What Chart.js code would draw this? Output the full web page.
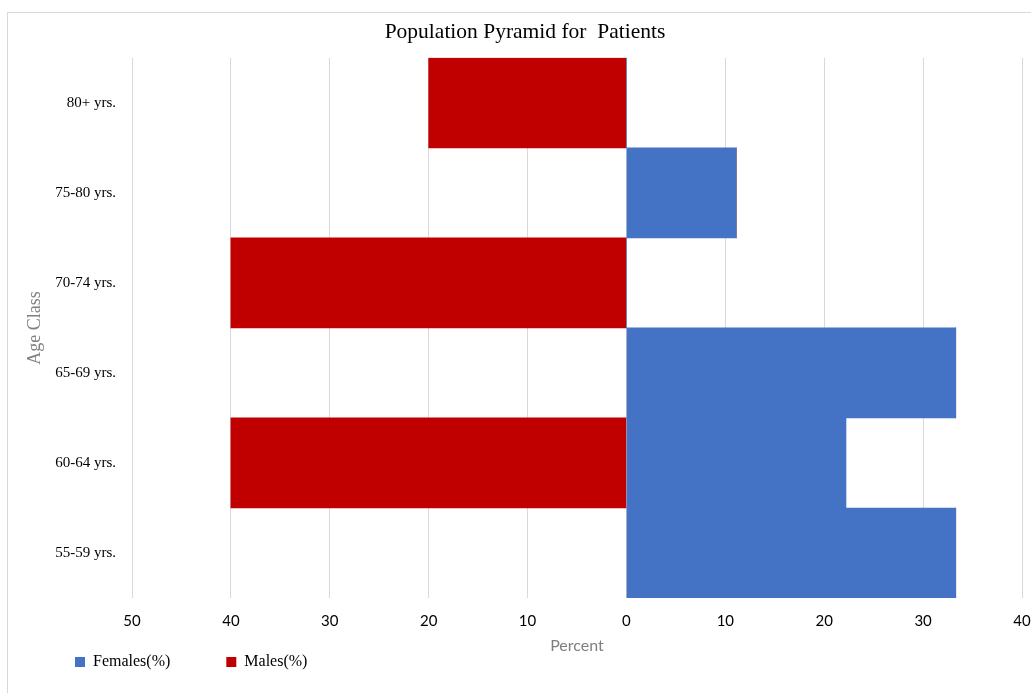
<!DOCTYPE html>
<html>
<head>
<meta charset="utf-8">
<script src="https://cdn.jsdelivr.net/npm/chart.js@4"></script>
<style>
  html, body { margin: 0; padding: 0; background: #fff; overflow: hidden; }
  #wrap { position: relative; width: 1031px; height: 693px; overflow: hidden; }
  #frame { position: absolute; left: 7px; top: 12px; width: 1100px; height: 800px; border: 1px solid #d9d9d9; }
</style>
</head>
<body>
<div id="wrap">
  <div id="frame"></div>
  <canvas id="Piramide"></canvas>
</div>
<script>
const labelsIdade = [
    '80+ yrs.',
    '75-80 yrs.',
    '70-74 yrs.',
    '65-69 yrs.',
    '60-64 yrs.',
    '55-59 yrs.',
];

// percent of patients per age class
const femininos = [0, 11.1, 0, 33.3, 22.2, 33.3];
const masculinos = [20, 0, 40, 0, 40, 0];

const ticksPercent = [50, 40, 30, 20, 10, 0, 10, 20, 30, 40];

const dataPiramide = {
    labels: labelsIdade,
    datasets: [
        {
            label: 'Females(%)',
            backgroundColor: 'rgb(68, 114, 196)',
            borderColor: 'rgb(68, 114, 196)',
            data: femininos,
        },
        {
            label: 'Males(%)',
            backgroundColor: 'rgb(192, 0, 0)',
            borderColor: 'rgb(192, 0, 0)',
            data: masculinos.map(v => -v),
        }
    ]
};

// legend items sit lower than its padded box, pull it back up
const puxaLegenda = {
    id: 'puxaLegenda',
    beforeDraw(chart) {
        const leg = chart.legend;
        if (leg && !leg._puxada) {
            leg.top -= leg.options.labels.padding - 4;
            leg._puxada = true;
        }
    },
    afterUpdate(chart) {
        if (chart.legend) chart.legend._puxada = false;
    }
};

const configPiramide = {
    type: 'bar',
    data: dataPiramide,
    plugins: [puxaLegenda],
    options: {
        indexAxis: 'y',
        responsive: true,
        maintainAspectRatio: false,
        animation: false,
        layout: { padding: { left: 19, top: 12, right: 0, bottom: 17 } },
        datasets: {
            bar: { barPercentage: 1, categoryPercentage: 1, borderWidth: 0 }
        },
        scales: {
            x: {
                stacked: true,
                min: -50,
                max: 40,
                ticks: {
                    stepSize: 10,
                    color: '#000',
                    font: { family: 'Lato', size: 15 },
                    padding: 14,
                    callback: (v, i) => ticksPercent[i],
                },
                grid: { color: '#d9d9d9', drawTicks: false },
                border: { display: false },
                title: {
                    display: true,
                    text: 'Percent',
                    color: '#7f7f7f',
                    font: { family: 'Lato', size: 16 },
                    padding: { top: 4, bottom: -5 },
                },
                afterFit: s => {
                    s.height = 52;
                    s.paddingLeft = 0;
                    s.paddingRight = 9;
                },
            },
            y: {
                stacked: true,
                ticks: {
                    color: '#000',
                    font: { family: 'Liberation Serif', size: 15 },
                    padding: 8,
                },
                grid: { display: false },
                border: { display: false },
                title: {
                    display: true,
                    text: 'Age Class',
                    color: '#808080',
                    font: { family: 'Liberation Serif', size: 18 },
                    padding: { top: 5, bottom: 0 },
                },
                afterFit: s => { s.width = 113; },
            }
        },
        plugins: {
            title: {
                display: true,
                text: 'Population Pyramid for  Patients',
                color: '#000',
                font: { family: 'Liberation Serif', size: 21.5, weight: 'normal' },
                padding: { top: 7, bottom: 13 },
            },
            legend: {
                position: 'bottom',
                align: 'start',
                maxHeight: 26,
                labels: {
                    color: '#000',
                    font: { family: 'Liberation Serif', size: 16 },
                    boxWidth: 10,
                    boxHeight: 10,
                    padding: 56,
                }
            },
            tooltip: { enabled: false }
        }
    }
};

const graficoPiramide = new Chart(
    document.getElementById('Piramide'),
    configPiramide
);
</script>
</body>
</html>
